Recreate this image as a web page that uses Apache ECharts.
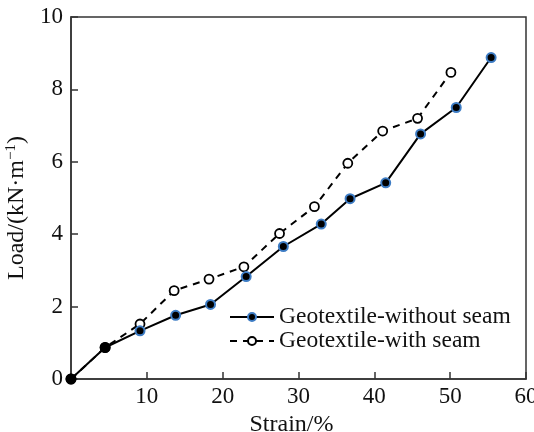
<!DOCTYPE html>
<html><head><meta charset="utf-8">
<script src="https://cdn.jsdelivr.net/npm/echarts@6/dist/echarts.min.js"></script>
<style>html,body{margin:0;padding:0;background:#fff}#c{width:534px;height:432px}</style>
</head><body><div id="c"></div>
<script>
var seriesNames = ['Geotextile-without seam', 'Geotextile-with seam'];
var strainWithout = [0, 4.5, 9.1, 13.8, 18.4, 23.1, 28.0, 33.0, 36.8, 41.5, 46.1, 50.8, 55.4];
var loadWithout   = [0, 0.87, 1.33, 1.76, 2.06, 2.83, 3.66, 4.28, 4.98, 5.42, 6.77, 7.5, 8.88];
var strainWith = [0, 4.5, 9.1, 13.6, 18.2, 22.8, 27.5, 32.1, 36.5, 41.1, 45.7, 50.1];
var loadWith   = [0, 0.87, 1.52, 2.44, 2.76, 3.1, 4.02, 4.76, 5.96, 6.85, 7.2, 8.47];
var xTicks = [0, 10, 20, 30, 40, 50, 60];
var yTicks = [0, 2, 4, 6, 8, 10];

var FONT = '"Liberation Serif","Times New Roman",serif';
function pairs(xs, ys) { return xs.map(function (x, i) { return [x, ys[i]]; }); }

var chart = echarts.init(document.getElementById('c'));
var withoutData = pairs(strainWithout, loadWithout).map(function (p, i) {
  return i < 2 ? { value: p, itemStyle: { borderColor: '#000' } } : p;
});
chart.setOption({
  animation: false,
  backgroundColor: '#fff',
  grid: { left: 71, right: 8, top: 17, bottom: 53, outerBoundsMode: 'none', containLabel: false,
          show: true, borderColor: '#333', borderWidth: 1.5, backgroundColor: 'transparent' },
  xAxis: {
    type: 'value', min: xTicks[0], max: xTicks[xTicks.length - 1], interval: xTicks[1] - xTicks[0],
    name: 'Strain/%', nameLocation: 'middle', nameGap: 29,
    nameTextStyle: { fontFamily: FONT, fontSize: 24, color: '#111', padding: [0, 14, 0, 0] },
    axisLine: { lineStyle: { color: '#333', width: 1.5 } },
    axisTick: { inside: true, length: 7, lineStyle: { color: '#333', width: 1.5 } },
    axisLabel: { fontFamily: FONT, fontSize: 23, color: '#111', margin: 6, showMinLabel: false },
    splitLine: { show: false }
  },
  yAxis: {
    type: 'value', min: yTicks[0], max: yTicks[yTicks.length - 1], interval: yTicks[1] - yTicks[0],
    name: '{a|Load/(kN·m}{s|−1}{a|)}', nameLocation: 'middle', nameGap: 42, nameRotate: 90,
    nameTextStyle: { fontFamily: FONT, fontSize: 24, color: '#111', padding: [0, 20, 0, 0],
      rich: { a: { fontFamily: FONT, fontSize: 24, color: '#111' },
              s: { fontFamily: FONT, fontSize: 15, color: '#111', verticalAlign: 'top', padding: [0, 0, 10, 0] } } },
    axisLine: { lineStyle: { color: '#333', width: 1.5 } },
    axisTick: { inside: true, length: 7, lineStyle: { color: '#333', width: 1.5 } },
    axisLabel: { fontFamily: FONT, fontSize: 23, color: '#111', margin: 8 },
    splitLine: { show: false }
  },
  legend: {
    orient: 'vertical', left: 224, top: 300, itemWidth: 44, itemHeight: 10, itemGap: 0,
    textStyle: { fontFamily: FONT, fontSize: 23.5, color: '#111', lineHeight: 20 },
    data: seriesNames
  },
  series: [
    {
      name: seriesNames[0], type: 'line', data: withoutData,
      symbol: 'circle', symbolSize: 9,
      lineStyle: { color: '#000', width: 2 },
      itemStyle: { color: '#000', borderColor: '#3d7cc4', borderWidth: 2 },
      z: 3
    },
    {
      name: seriesNames[1], type: 'line', data: pairs(strainWith, loadWith),
      symbol: 'circle', symbolSize: 9,
      lineStyle: { color: '#000', width: 2, type: [7, 6] },
      itemStyle: { color: '#fff', borderColor: '#000', borderWidth: 1.8 },
      z: 2
    }
  ]
});
</script></body></html>
